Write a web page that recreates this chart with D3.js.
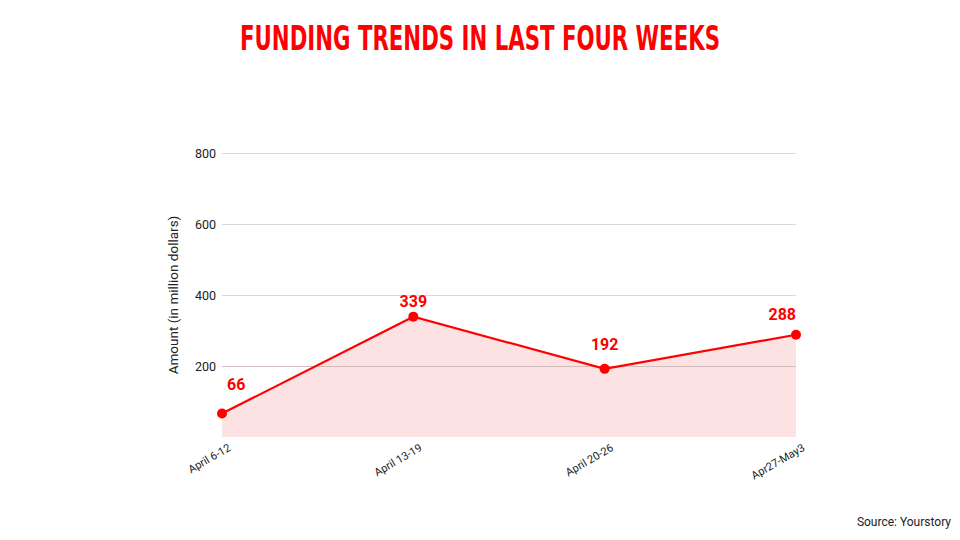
<!DOCTYPE html>
<html><head><meta charset="utf-8">
<script src="https://cdn.jsdelivr.net/npm/d3@7/dist/d3.min.js"></script>
<style>body{margin:0;background:#fff;} svg{display:block;}</style>
</head><body>
<svg id="chart" width="960" height="540"></svg>
<script>
const categories = ["April 6-12", "April 13-19", "April 20-26", "Apr27-May3"];
const amounts = [66, 339, 192, 288];
const yTicks = [200, 400, 600, 800];

const W = 960, H = 540;
const m = {left: 222, right: 164, top: 153, bottom: 103};
const svg = d3.select("#chart");
const x = d3.scalePoint().domain(categories).range([m.left, W - m.right]);
const y = d3.scaleLinear().domain([0, 800]).range([H - m.bottom, m.top]);

// title
svg.append("text").attr("x", 480).attr("y", 50).attr("text-anchor", "middle")
  .attr("font-family", "'Liberation Sans Narrow','DejaVu Sans Condensed',sans-serif")
  .attr("font-weight", "bold").attr("font-size", 34).attr("fill", "#ff0000")
  .attr("textLength", 480).attr("lengthAdjust", "spacingAndGlyphs")
  .text("FUNDING TRENDS IN LAST FOUR WEEKS");

// area
const pts = categories.map((c, i) => ({c, v: amounts[i]}));
svg.append("path").datum(pts)
  .attr("d", d3.area().x(d => x(d.c)).y0(y(0)).y1(d => y(d.v)))
  .attr("fill", "#fde2e3");

// grid
const yAxis = d3.axisLeft(y).tickValues(yTicks).tickSize(-(W - m.left - m.right)).tickPadding(6);
const gy = svg.append("g").attr("transform", `translate(${m.left},0)`).call(yAxis);
gy.select(".domain").remove();
gy.selectAll(".tick line").attr("stroke", "#d9d9d9").attr("stroke-width", 1);
gy.selectAll(".tick").filter(d => d === 200).select("line").attr("stroke", "#d3bcbc");
gy.selectAll(".tick text").attr("font-family", "Roboto, sans-serif").attr("font-size", 12.5).attr("fill", "#222");

// y title
svg.append("text").attr("transform", `translate(178,${(y(0)+y(800))/2}) rotate(-90)`)
  .attr("text-anchor", "middle").attr("font-family", "Roboto, sans-serif")
  .attr("font-size", 13.5).attr("fill", "#222").text("Amount (in million dollars)");

// x axis labels
const xAxis = d3.axisBottom(x).tickSize(0).tickPadding(0);
const gx = svg.append("g").attr("transform", `translate(0,${y(0)})`).call(xAxis);
gx.select(".domain").remove();
gx.selectAll(".tick text").attr("font-family", "Roboto, sans-serif").attr("font-size", 11).attr("fill", "#222")
  .attr("text-anchor", "end").attr("dy", 0)
  .attr("transform", "translate(9,13) rotate(-30)");

// line
svg.append("path").datum(pts)
  .attr("d", d3.line().x(d => x(d.c)).y(d => y(d.v)))
  .attr("fill", "none").attr("stroke", "#ff0000").attr("stroke-width", 2.2);

svg.selectAll("circle.pt").data(pts).enter().append("circle")
  .attr("cx", d => x(d.c)).attr("cy", d => y(d.v)).attr("r", 5).attr("fill", "#ff0000");

// value labels
const labelDy = [-24, -10, -19, -15];
svg.selectAll("text.val").data(pts).enter().append("text")
  .attr("x", (d, i) => i === 0 ? x(d.c) + 5 : x(d.c))
  .attr("text-anchor", (d, i) => i === 0 ? "start" : (i === pts.length - 1 ? "end" : "middle"))
  .attr("y", (d, i) => y(d.v) + labelDy[i])
  .attr("font-family", "Roboto, sans-serif").attr("font-weight", "bold").attr("font-size", 16)
  .attr("fill", "#ff0000").text(d => d.v);

// source
svg.append("text").attr("x", 951).attr("y", 526).attr("text-anchor", "end")
  .attr("font-family", "Roboto, sans-serif").attr("font-size", 12).attr("fill", "#222")
  .text("Source: Yourstory");
</script>
</body></html>
